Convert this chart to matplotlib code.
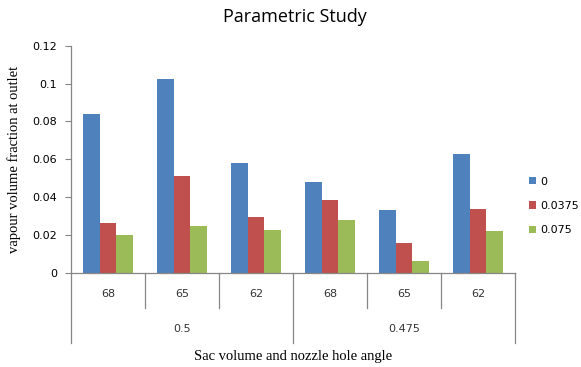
import matplotlib.pyplot as plt
import matplotlib.transforms as mtransforms
import numpy as np

angulos = ["68", "65", "62", "68", "65", "62"]
grupos = ["0.5", "0.475"]
series = ["0", "0.0375", "0.075"]
valores_0 = [0.084, 0.1022, 0.058, 0.0482, 0.0332, 0.0628]
valores_00375 = [0.0265, 0.0513, 0.0295, 0.0384, 0.0156, 0.0338]
valores_0075 = [0.0197, 0.0249, 0.0227, 0.0279, 0.0062, 0.0222]

cores = ["#4F81BD", "#C0504D", "#9BBB59"]
cinza = "#868686"

fig = plt.figure(figsize=(5.81, 3.67), dpi=100)
ax = fig.add_axes([71 / 581, 1 - 272.7 / 367, 444 / 581, 227 / 367])

x = np.arange(len(angulos))
w = 1 / 4.5
for i, (vals, nome, cor) in enumerate(zip([valores_0, valores_00375, valores_0075], series, cores)):
    ax.bar(x + (i - 1) * w, vals, width=w, color=cor, label=nome, zorder=2)

ax.set_xlim(-0.5, len(angulos) - 0.5)
ax.set_ylim(0, 0.12)
ax.set_yticks(np.arange(0, 0.121, 0.02))
ax.set_yticklabels(["0", "0.02", "0.04", "0.06", "0.08", "0.1", "0.12"])
ax.tick_params(axis="y", length=4, color=cinza, labelsize=8, pad=6)
ax.set_xticks([])
for s in ["top", "right"]:
    ax.spines[s].set_visible(False)
for s in ["left", "bottom"]:
    ax.spines[s].set_color(cinza)
    ax.spines[s].set_linewidth(0.9)

# eixo de categorias em dois niveis
trans = mtransforms.blended_transform_factory(ax.transData, ax.transAxes)
for k in range(len(angulos) + 1):
    xb = k - 0.5
    fundo = -0.31 if k % 3 == 0 else -0.155
    ax.plot([xb, xb], [0, fundo], color=cinza, lw=0.9, transform=trans, clip_on=False)
for k, lab in enumerate(angulos):
    ax.text(k, -0.095, lab, transform=trans, ha="center", va="center", fontsize=8, color="#333333")
for g, lab in enumerate(grupos):
    ax.text(g * 3 + 1, -0.25, lab, transform=trans, ha="center", va="center", fontsize=8, color="#333333")

ax.text(0.5, -0.37, "Sac volume and nozzle hole angle", transform=ax.transAxes, ha="center",
        va="center", fontsize=10.5, family="Liberation Serif")
ax.set_ylabel("vapour volume fraction at outlet", fontsize=10.5, family="Liberation Serif", labelpad=8)

fig.text(295 / 581, 1 - 17 / 367, "Parametric Study", ha="center", va="center", fontsize=13,
         family="Open Sans")

ax.legend(loc="center left", bbox_to_anchor=(529 / 581, 1 - 206 / 367), bbox_transform=fig.transFigure,
          frameon=False, fontsize=8, handlelength=0.65, handleheight=0.65, handletextpad=0.35,
          labelspacing=1.3, borderpad=0, borderaxespad=0)

plt.savefig("out.png", dpi=100)
